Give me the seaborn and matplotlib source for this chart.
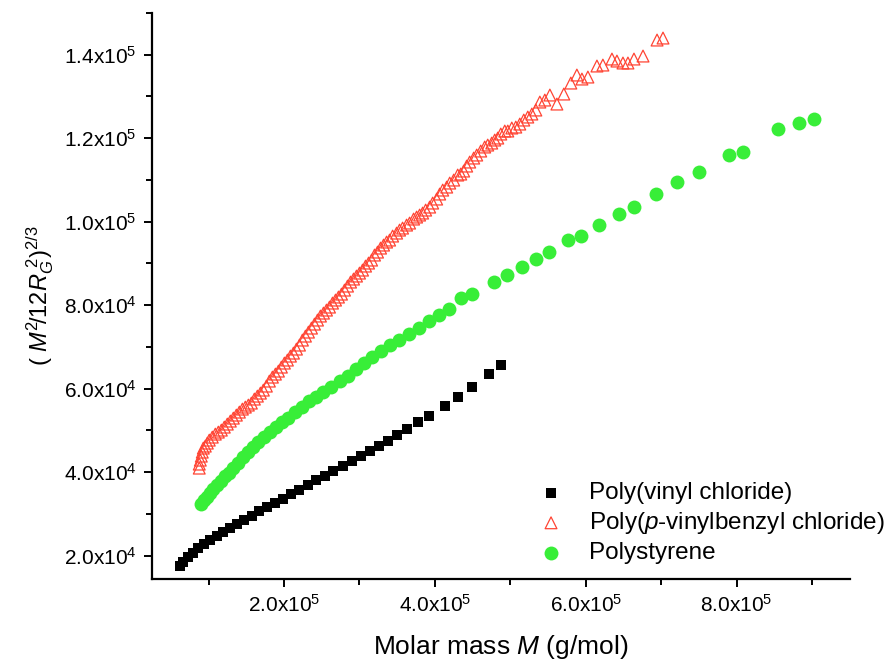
import matplotlib
matplotlib.use("Agg")
import matplotlib.pyplot as plt
from matplotlib.ticker import MultipleLocator, FixedLocator, FuncFormatter
import seaborn as sns
import pandas as pd

# Poly(vinyl chloride): molar mass (g/mol) and (M^2/12 R_G^2)^(2/3)
pvc_m = [0.618, 0.664, 0.724, 0.790, 0.863, 0.943, 1.023, 1.109, 1.195, 1.288,
         1.381, 1.474, 1.574, 1.673, 1.780, 1.886, 1.992, 2.098, 2.205, 2.317,
         2.430, 2.543, 2.656, 2.776, 2.895, 3.015, 3.134, 3.254, 3.377, 3.495,
         3.628, 3.774, 3.922, 4.134, 4.303, 4.495, 4.714, 4.874]
pvc_y = [1.749, 1.856, 1.964, 2.072, 2.180, 2.275, 2.371, 2.479, 2.575, 2.671,
         2.766, 2.862, 2.958, 3.066, 3.162, 3.257, 3.365, 3.473, 3.581, 3.689,
         3.808, 3.916, 4.036, 4.156, 4.275, 4.395, 4.515, 4.630, 4.750, 4.881,
         5.035, 5.205, 5.341, 5.593, 5.789, 6.043, 6.340, 6.563]

# Poly(p-vinylbenzyl chloride)
pvbc_m = [0.876, 0.876, 0.890, 0.903, 0.916, 0.930, 0.956, 0.983, 1.009, 1.049,
          1.089, 1.129, 1.169, 1.208, 1.248, 1.288, 1.328, 1.368, 1.408, 1.448,
          1.487, 1.527, 1.567, 1.607, 1.647, 1.687, 1.726, 1.766, 1.806, 1.846,
          1.886, 1.926, 1.965, 2.005, 2.045, 2.085, 2.125, 2.165, 2.205, 2.244,
          2.284, 2.324, 2.364, 2.404, 2.444, 2.483, 2.523, 2.563, 2.603, 2.643,
          2.683, 2.722, 2.762, 2.802, 2.842, 2.882, 2.922, 2.961, 3.001, 3.041,
          3.081, 3.121, 3.161, 3.200, 3.240, 3.280, 3.320, 3.360, 3.400, 3.440,
          3.493, 3.532, 3.572, 3.625, 3.665, 3.718, 3.758, 3.798, 3.838, 3.878,
          3.931, 3.971, 4.024, 4.064, 4.104, 4.157, 4.197, 4.250, 4.303, 4.343,
          4.382, 4.422, 4.462, 4.515, 4.555, 4.608, 4.661, 4.701, 4.754, 4.794,
          4.834, 4.874, 4.927, 4.967, 5.020, 5.073, 5.126, 5.179, 5.232, 5.286,
          5.339, 5.392, 5.458, 5.525, 5.618, 5.710, 5.803, 5.883, 5.950, 6.029,
          6.149, 6.228, 6.348, 6.414, 6.494, 6.560, 6.640, 6.760, 6.946, 7.025]
pvbc_y = [4.096, 4.192, 4.287, 4.383, 4.479, 4.575, 4.623, 4.695, 4.766, 4.838,
          4.910, 4.958, 5.006, 5.078, 5.150, 5.222, 5.293, 5.365, 5.437, 5.509,
          5.557, 5.605, 5.653, 5.749, 5.820, 5.892, 5.964, 6.060, 6.180, 6.275,
          6.347, 6.419, 6.515, 6.611, 6.683, 6.778, 6.850, 6.946, 7.042, 7.162,
          7.257, 7.353, 7.449, 7.545, 7.641, 7.737, 7.808, 7.880, 7.952, 8.048,
          8.120, 8.192, 8.263, 8.359, 8.455, 8.551, 8.623, 8.695, 8.766, 8.838,
          8.934, 9.006, 9.078, 9.198, 9.269, 9.365, 9.437, 9.509, 9.557, 9.653,
          9.724, 9.796, 9.844, 9.916, 9.964, 10.060, 10.108, 10.156, 10.204, 10.275,
          10.347, 10.443, 10.539, 10.659, 10.754, 10.826, 10.922, 10.994, 11.114, 11.138,
          11.210, 11.329, 11.425, 11.521, 11.593, 11.689, 11.785, 11.832, 11.880, 11.952,
          12.000, 12.096, 12.168, 12.168, 12.240, 12.263, 12.335, 12.431, 12.503, 12.575,
          12.671, 12.862, 12.910, 13.030, 12.814, 13.054, 13.317, 13.509, 13.413, 13.461,
          13.725, 13.748, 13.892, 13.844, 13.797, 13.797, 13.892, 13.964, 14.347, 14.395]

# Polystyrene
ps_m = [0.903, 0.943, 0.983, 1.023, 1.062, 1.116, 1.169, 1.222, 1.275, 1.328,
        1.394, 1.461, 1.527, 1.594, 1.660, 1.740, 1.820, 1.899, 1.979, 2.058,
        2.151, 2.244, 2.337, 2.430, 2.523, 2.629, 2.736, 2.842, 2.948, 3.054,
        3.161, 3.280, 3.400, 3.519, 3.652, 3.785, 3.918, 4.051, 4.183, 4.343,
        4.493, 4.785, 4.954, 5.149, 5.339, 5.515, 5.760, 5.932, 6.179, 6.437,
        6.636, 6.932, 7.211, 7.499, 7.897, 8.092, 8.548, 8.831, 9.026]
ps_y = [3.234, 3.329, 3.413, 3.497, 3.593, 3.689, 3.784, 3.904, 3.976, 4.096,
        4.216, 4.359, 4.479, 4.599, 4.719, 4.838, 4.958, 5.078, 5.198, 5.293,
        5.437, 5.557, 5.701, 5.808, 5.916, 6.036, 6.180, 6.299, 6.467, 6.611,
        6.754, 6.898, 7.042, 7.162, 7.305, 7.449, 7.617, 7.760, 7.904, 8.160,
        8.263, 8.551, 8.711, 8.917, 9.109, 9.262, 9.557, 9.660, 9.909, 10.180,
        10.355, 10.651, 10.953, 11.178, 11.586, 11.665, 12.208, 12.366, 12.455]

labels = ["Poly(vinyl chloride)",
          "Poly($\\mathit{p}$-vinylbenzyl chloride)",
          "Polystyrene"]

sns.set_style("ticks")
plt.rcParams["font.family"] = ["Liberation Sans", "DejaVu Sans"]
plt.rcParams["mathtext.fontset"] = "custom"
plt.rcParams["mathtext.rm"] = "Liberation Sans"
plt.rcParams["mathtext.it"] = "Liberation Sans:italic"
plt.rcParams["mathtext.bf"] = "Liberation Sans:bold"
plt.rcParams["text.color"] = "black"
plt.rcParams["axes.labelcolor"] = "black"
plt.rcParams["xtick.color"] = "black"
plt.rcParams["ytick.color"] = "black"
plt.rcParams["axes.edgecolor"] = "black"

fig = plt.figure(figsize=(8.86, 6.66), dpi=100)
ax = fig.add_axes([0.1716, 0.1306, 0.7874, 0.8502])

red = "#ff4433"
green = "#38ee38"

df_pvc = pd.DataFrame({"M": [v * 1e5 for v in pvc_m], "Y": [v * 1e4 for v in pvc_y]})
df_pvbc = pd.DataFrame({"M": [v * 1e5 for v in pvbc_m], "Y": [v * 1e4 for v in pvbc_y]})
df_ps = pd.DataFrame({"M": [v * 1e5 for v in ps_m], "Y": [v * 1e4 for v in ps_y]})

sns.scatterplot(data=df_pvc, x="M", y="Y", marker="s", s=58, color="black",
                edgecolor="black", linewidth=0, label=labels[0], ax=ax, zorder=3)
sns.scatterplot(data=df_pvbc, x="M", y="Y", marker="^", s=72, color=red,
                facecolors="none", edgecolor=red, linewidth=0.9,
                label=labels[1], ax=ax, zorder=3)
sns.scatterplot(data=df_ps, x="M", y="Y", marker="o", s=100, color=green,
                edgecolor=green, linewidth=0, label=labels[2], ax=ax, zorder=3)
ax.collections[1].set_facecolor("none")

ax.set_xlim(2.5e4, 9.5e5)
ax.set_ylim(1.44e4, 1.5e5)


def sci_fmt(v, pos):
    if v == 0:
        return "0"
    e = 0
    m = v
    while abs(m) >= 10:
        m /= 10.0
        e += 1
    return f"{m:.1f}x10$^{{{e}}}$"


ax.xaxis.set_major_locator(FixedLocator([2e5, 4e5, 6e5, 8e5]))
ax.xaxis.set_minor_locator(FixedLocator([1e5, 3e5, 5e5, 7e5, 9e5]))
ax.yaxis.set_major_locator(MultipleLocator(2e4))
ax.yaxis.set_minor_locator(MultipleLocator(1e4))
ax.xaxis.set_major_formatter(FuncFormatter(sci_fmt))
ax.yaxis.set_major_formatter(FuncFormatter(sci_fmt))

ax.tick_params(which="major", direction="out", length=6, width=1.4, labelsize=15, pad=5)
ax.tick_params(which="minor", direction="out", length=4, width=1.4)

for side in ("top", "right"):
    ax.spines[side].set_visible(False)
for side in ("left", "bottom"):
    ax.spines[side].set_linewidth(1.6)

ax.set_xlabel("Molar mass $\\mathit{M}$ (g/mol)", fontsize=19, labelpad=12)
ax.set_ylabel("$(\\ \\mathit{M}^{2}\\!/12\\mathit{R}_{G}^{\\ 2})^{2/3}$", fontsize=17, labelpad=6)

leg = ax.legend(loc="lower right", bbox_to_anchor=(1.074, -0.004), frameon=False,
                fontsize=17.5, handletextpad=0.55, labelspacing=0.25,
                borderaxespad=0.3)

fig.savefig("out.png", dpi=100)
